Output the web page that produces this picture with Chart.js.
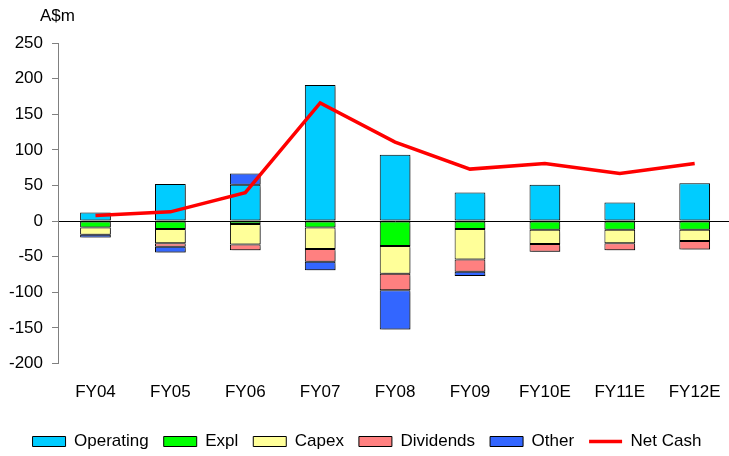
<!DOCTYPE html>
<html>
<head>
<meta charset="utf-8">
<script src="https://cdn.jsdelivr.net/npm/chart.js@4/dist/chart.umd.min.js"></script>
<style>
  html, body { margin: 0; padding: 0; background: #fff; overflow: hidden; }
  #wrap { width: 729px; height: 456px; overflow: hidden; }
  canvas { display: block; }
</style>
</head>
<body>
<div id="wrap"><canvas id="c" width="740" height="460"></canvas></div>
<script>
// Cash flow components by financial year (A$m)
const categories = ['FY04', 'FY05', 'FY06', 'FY07', 'FY08', 'FY09', 'FY10E', 'FY11E', 'FY12E'];
const operating  = [12, 52, 51, 191, 93, 40, 51, 26, 53];
const expl       = [-9, -11, -4, -9, -35, -11, -12, -12, -12];
const capex      = [-10, -20, -29, -30, -39, -43, -20, -19, -16];
const dividends  = [null, -5, -8, -18, -23, -17, -11, -10, -12];
const other      = [-4, -8, 16, -12, -55, -6, null, null, null];
const netCash    = [8, 13, 40, 166, 111, 73, 81, 67, 81];
const yTicks     = { min: -200, max: 250, step: 50 };
const unitLabel  = 'A$m';

const FONT = "'Liberation Sans', Arial, Helvetica, sans-serif";
Chart.defaults.font.family = FONT;
Chart.defaults.font.size = 17;
Chart.defaults.color = '#000';

function barSet(label, data, color) {
  return {
    type: 'bar', label, data,
    backgroundColor: color, borderColor: '#000', borderWidth: 1,
    borderSkipped: false, pointStyle: 'rect',
    barPercentage: 0.41, categoryPercentage: 1, order: 1
  };
}

// Soft drop shadow under the stacked bar segments
const barShadow = {
  id: 'barShadow',
  beforeDatasetDraw(chart, args) {
    if (args.meta.type !== 'bar') return;
    const c = chart.ctx;
    c.save();
    c.shadowColor = 'rgba(0,0,0,0.35)';
    c.shadowOffsetX = 2;
    c.shadowOffsetY = 2;
    c.shadowBlur = 2;
  },
  afterDatasetDraw(chart, args) {
    if (args.meta.type !== 'bar') return;
    chart.ctx.restore();
  }
};

// Unit caption above the value axis
const unitCaption = {
  id: 'unitCaption',
  afterDraw(chart) {
    const c = chart.ctx;
    const area = chart.chartArea;
    c.save();
    c.font = '17px ' + FONT;
    c.fillStyle = '#000';
    c.textAlign = 'left';
    c.textBaseline = 'middle';
    c.fillText(unitLabel, area.left - 18, area.top - 27);
    c.restore();
  }
};

new Chart(document.getElementById('c'), {
  data: {
    labels: categories,
    datasets: [
      barSet('Operating', operating, '#00CCFF'),
      barSet('Expl', expl, '#00FF00'),
      barSet('Capex', capex, '#FFFF99'),
      barSet('Dividends', dividends, '#FF8080'),
      barSet('Other', other, '#3366FF'),
      {
        type: 'line', label: 'Net Cash', data: netCash,
        borderColor: '#FF0000', backgroundColor: '#FF0000',
        borderWidth: 3.5, pointRadius: 0, pointHoverRadius: 0,
        pointStyle: 'line', tension: 0, fill: false, order: 0
      }
    ]
  },
  plugins: [barShadow, unitCaption],
  options: {
    responsive: false,
    animation: false,
    events: [],
    layout: { padding: { top: 43, left: 0, right: 6, bottom: 0 } },
    scales: {
      x: {
        stacked: true,
        offset: true,
        grid: { display: false, drawTicks: false, tickLength: 0 },
        border: { display: false },
        ticks: { padding: 19, font: { size: 17 } },
        afterFit(scale) { scale.height -= 4; }
      },
      y: {
        stacked: true,
        min: yTicks.min, max: yTicks.max,
        ticks: { stepSize: yTicks.step, padding: 9, font: { size: 17 } },
        grid: {
          color: (ctx) => (ctx.tick && ctx.tick.value === 0 ? '#000' : 'rgba(0,0,0,0)'),
          lineWidth: 1,
          tickColor: '#808080',
          tickLength: 6
        },
        border: { color: '#808080', width: 1 }
      }
    },
    plugins: {
      legend: {
        position: 'bottom',
        labels: {
          usePointStyle: true,
          pointStyleWidth: 33,
          boxWidth: 33,
          boxHeight: 10,
          padding: 15,
          font: { size: 17 },
          color: '#000',
          sort: (a, b) => a.datasetIndex - b.datasetIndex
        }
      },
      tooltip: { enabled: false }
    }
  }
});
</script>
</body>
</html>
